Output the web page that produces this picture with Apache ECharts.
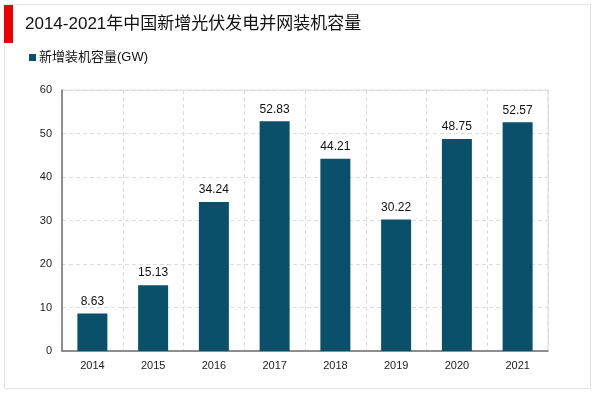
<!DOCTYPE html>
<html><head><meta charset="utf-8">
<script src="https://cdn.jsdelivr.net/npm/echarts@6/dist/echarts.min.js"></script>
<style>html,body{margin:0;padding:0;background:#fff}#c{width:600px;height:393px}</style>
</head><body><div id="c"></div>
<script>
var categories = ['2014','2015','2016','2017','2018','2019','2020','2021'];
var values = [8.63, 15.13, 34.24, 52.83, 44.21, 30.22, 48.75, 52.57];
var seriesName = '新增装机容量(GW)';
var titleText = '2014-2021年中国新增光伏发电并网装机容量';
var yTicks = {min: 0, max: 60, interval: 10};

var chart = echarts.init(document.getElementById('c'));
var font = 'Arial, "Liberation Sans", "Noto Sans CJK SC", sans-serif';
chart.setOption({
  animation: false,
  textStyle: {fontFamily: font},
  graphic: [
    {type: 'rect', shape: {x: 4.5, y: 4.5, width: 586, height: 384}, style: {fill: 'none', stroke: '#e3e3e3', lineWidth: 1}},
    {type: 'rect', shape: {x: 4, y: 5, width: 9, height: 38}, style: {fill: '#ee0000'}},
    {type: 'text', left: 25, top: 16, style: {text: titleText, fontSize: 17, fill: '#111', fontFamily: font}}
  ],
  legend: {
    left: 24, top: 46, icon: 'rect', itemWidth: 7, itemHeight: 7, itemGap: 4,
    textStyle: {fontSize: 13, color: '#111', padding: [0,0,0,-2]},
    data: [seriesName]
  },
  grid: {left: 62, right: 52, top: 90, bottom: 42, show: true, borderColor: '#dcdcdc', borderWidth: 1},
  xAxis: {
    type: 'category', data: categories,
    axisLine: {lineStyle: {color: '#707070', width: 1.5}},
    axisTick: {show: false},
    axisLabel: {fontSize: 11, color: '#222', margin: 9},
    splitLine: {show: true, lineStyle: {color: '#dcdcdc', type: [4, 3]}}
  },
  yAxis: {
    type: 'value', min: yTicks.min, max: yTicks.max, interval: yTicks.interval,
    axisLine: {show: true, lineStyle: {color: '#707070', width: 1.5}},
    axisTick: {show: false},
    axisLabel: {fontSize: 11, color: '#222', margin: 10},
    splitLine: {lineStyle: {color: '#dcdcdc', type: [4, 3]}}
  },
  series: [{
    name: seriesName, type: 'bar', data: values, barWidth: 30,
    itemStyle: {color: '#0a506b'},
    label: {show: true, position: 'top', fontSize: 12, color: '#111', distance: 6}
  }]
});
</script></body></html>
